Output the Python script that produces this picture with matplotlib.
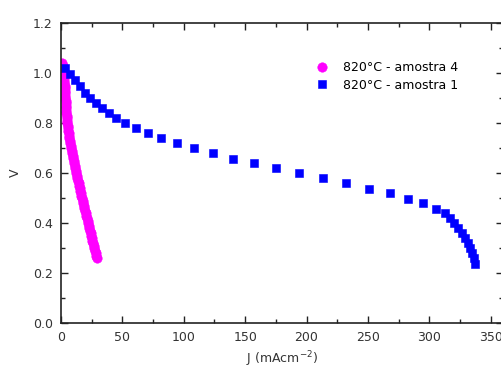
import matplotlib
matplotlib.use("Agg")
import matplotlib.pyplot as plt
from matplotlib.ticker import MultipleLocator, FormatStrFormatter

plt.rcParams['font.family'] = ['DejaVu Sans']

# Series: 820°C - amostra 4 (magenta circles)
j_a4 = [1.0, 1.3, 1.6, 1.8, 2.0, 2.2, 2.4, 2.6, 2.8, 3.0, 3.2, 3.3, 3.4, 3.5,
        3.6, 3.7, 3.8, 3.9, 4.0, 4.1, 4.3, 4.5, 4.7, 4.9, 5.1, 5.4, 5.7, 6.0,
        6.3, 6.6, 6.9, 7.3, 7.6, 8.0, 8.3, 8.7, 9.0, 9.4, 9.8, 10.2, 10.7, 11.1,
        11.6, 12.0, 12.5, 12.9, 13.4, 13.8, 14.3, 14.7, 15.2, 15.6, 16.1, 16.6,
        17.1, 17.6, 18.1, 18.6, 19.1, 19.6, 20.1, 20.6, 21.1, 21.6, 22.1, 22.6,
        23.1, 23.6, 24.1, 24.6, 25.1, 25.6, 26.1, 26.6, 27.1, 27.6, 28.1, 28.6,
        29.1]
v_a4 = [1.04, 1.03, 1.02, 1.01, 1.00, 0.99, 0.98, 0.97, 0.96, 0.95, 0.94, 0.93,
        0.92, 0.91, 0.90, 0.89, 0.88, 0.87, 0.86, 0.85, 0.84, 0.83, 0.82, 0.81,
        0.80, 0.79, 0.78, 0.77, 0.76, 0.75, 0.74, 0.73, 0.72, 0.71, 0.70, 0.69,
        0.68, 0.67, 0.66, 0.65, 0.64, 0.63, 0.62, 0.61, 0.60, 0.59, 0.58, 0.57,
        0.56, 0.55, 0.54, 0.53, 0.52, 0.51, 0.50, 0.49, 0.48, 0.47, 0.46, 0.45,
        0.44, 0.43, 0.42, 0.41, 0.40, 0.39, 0.38, 0.37, 0.36, 0.35, 0.34, 0.33,
        0.32, 0.31, 0.30, 0.29, 0.28, 0.27, 0.26]

# Series: 820°C - amostra 1 (blue squares)
j_a1 = [3.3, 7.4, 11.5, 15.5, 19.6, 23.7, 28.4, 33.3, 38.7, 45.0, 52.3, 61.0,
        70.9, 81.8, 94.3, 108.2, 123.7, 140.0, 157.2, 175.2, 193.5, 213.2, 232.2,
        250.8, 268.2, 282.7, 295.0, 305.3, 312.6, 316.7, 320.3, 323.0, 326.3,
        329.0, 331.2, 333.1, 335.0, 336.6, 337.1]
v_a1 = [1.019, 0.996, 0.972, 0.948, 0.921, 0.899, 0.879, 0.859, 0.839, 0.819,
        0.801, 0.779, 0.759, 0.739, 0.719, 0.699, 0.679, 0.657, 0.639, 0.619,
        0.599, 0.579, 0.559, 0.537, 0.519, 0.497, 0.479, 0.457, 0.439, 0.421,
        0.401, 0.379, 0.359, 0.339, 0.319, 0.299, 0.279, 0.259, 0.236]

labels = ['820°C - amostra 4', '820°C - amostra 1']

fig = plt.figure(figsize=(5.01, 3.69), dpi=100)
ax = fig.add_axes([61/501, 1-323/369, 1.004 - 61/501, (323-23)/369])

ax.plot(j_a4, v_a4, linestyle='none', marker='o', markersize=6.8,
        markeredgewidth=0.4, color='#ff00ff', markeredgecolor='#ff00ff',
        label=labels[0])
ax.plot(j_a1, v_a1, linestyle='none', marker='s', markersize=6.3,
        markeredgewidth=0.4, color='#0000ff', markeredgecolor='#0000ff',
        label=labels[1])

ax.set_xlim(0, 360)
ax.set_ylim(0, 1.2)
ax.xaxis.set_major_locator(MultipleLocator(50))
ax.xaxis.set_minor_locator(MultipleLocator(25))
ax.yaxis.set_major_locator(MultipleLocator(0.2))
ax.yaxis.set_minor_locator(MultipleLocator(0.1))
ax.yaxis.set_major_formatter(FormatStrFormatter('%.1f'))

ax.tick_params(which='both', direction='in', top=True, right=True,
               labelsize=9, colors='#222222', labelcolor='#333333')
ax.tick_params(which='major', length=5, width=1, pad=6)
ax.tick_params(which='minor', length=3, width=1)
for s in ax.spines.values():
    s.set_color('#222222')
    s.set_linewidth(1.2)

ax.set_xlabel('J (mAcm$^{-2}$)', fontsize=9, color='#333333', labelpad=4)
ax.set_ylabel('V', fontsize=9, color='#333333', labelpad=8)

ax.legend(loc='upper left', bbox_to_anchor=(0.55, 0.91), frameon=False,
          fontsize=9, handletextpad=1.25, labelspacing=0.35, markerscale=1.0,
          handlelength=1.0)

fig.savefig('out.png', dpi=100)
